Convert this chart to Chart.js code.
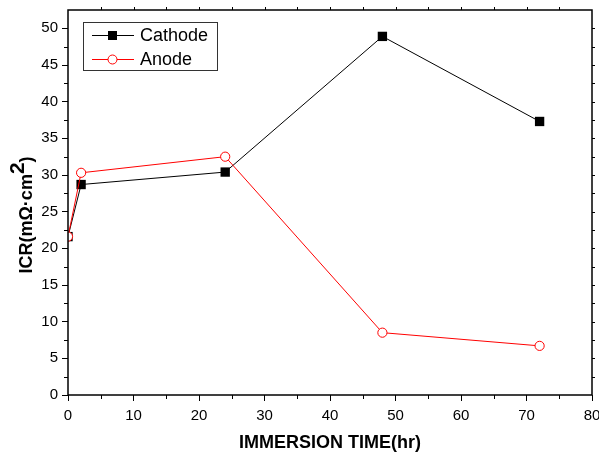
<!DOCTYPE html>
<html>
<head>
<meta charset="utf-8">
<script src="https://cdn.jsdelivr.net/npm/chart.js@4"></script>
<style>
  html, body { margin: 0; padding: 0; background: #fff; }
  #wrap { width: 599px; height: 454px; }
</style>
</head>
<body>
<div id="wrap"><canvas id="icrChart" width="599" height="454"></canvas></div>
<script>
// Dados
const hours = [0, 2, 24, 48, 72];
const cathode = [21.6, 28.7, 30.4, 48.9, 37.3];
const anode = [21.6, 30.3, 32.5, 8.5, 6.7];
const seriesNames = ['Cathode', 'Anode'];
const xTitle = 'IMMERSION TIME(hr)';
const yTitleParts = ['ICR(m\u03A9\u00B7cm', '2', ')'];

const FONT = '"Liberation Sans", Arial, sans-serif';

function toPoints(ys) {
    return hours.map((h, i) => ({ x: h, y: ys[i] }));
}

// Moldura, ticks menores, título do eixo Y e legenda
const framePlugin = {
    id: 'frame',
    afterDraw(chart) {
        const ctx = chart.ctx;
        const a = chart.chartArea;
        const xs = chart.scales.x;
        const ys = chart.scales.y;
        ctx.save();
        ctx.strokeStyle = '#000';
        ctx.lineWidth = 1.5;
        ctx.strokeRect(a.left, a.top, a.right - a.left, a.bottom - a.top);

        ctx.lineWidth = 1;
        ctx.beginPath();
        for (let v = 5; v < 80; v += 10) {
            const px = Math.round(xs.getPixelForValue(v)) + 0.5;
            ctx.moveTo(px, a.bottom);
            ctx.lineTo(px, a.bottom + 4);
        }
        for (let v = 2.5; v < 52.5; v += 5) {
            const py = Math.round(ys.getPixelForValue(v)) + 0.5;
            ctx.moveTo(a.left, py);
            ctx.lineTo(a.left - 4, py);
        }
        for (let v = 5; v < 80; v += 5) {
            const px = Math.round(xs.getPixelForValue(v)) + 0.5;
            ctx.moveTo(px, a.top);
            ctx.lineTo(px, a.top - 3);
        }
        for (let v = 2.5; v < 52.5; v += 2.5) {
            const py = Math.round(ys.getPixelForValue(v)) + 0.5;
            ctx.moveTo(a.right, py);
            ctx.lineTo(a.right + 3, py);
        }
        ctx.stroke();

        // título Y com expoente grande
        ctx.fillStyle = '#000';
        ctx.translate(27, 215);
        ctx.rotate(-Math.PI / 2);
        ctx.font = 'bold 18px ' + FONT;
        const w0 = ctx.measureText(yTitleParts[0]).width;
        const w2 = ctx.measureText(yTitleParts[2]).width;
        ctx.font = 'bold 21px ' + FONT;
        const w1 = ctx.measureText(yTitleParts[1]).width;
        let x = -(w0 + w1 + w2) / 2;
        ctx.textBaseline = 'middle';
        ctx.font = 'bold 18px ' + FONT;
        ctx.fillText(yTitleParts[0], x, 0);
        x += w0;
        ctx.font = 'bold 21px ' + FONT;
        ctx.fillText(yTitleParts[1], x, -9);
        x += w1;
        ctx.font = 'bold 18px ' + FONT;
        ctx.fillText(yTitleParts[2], x, 0);
        ctx.restore();

        // legenda dentro do gráfico
        ctx.save();
        const lx = 83, ly = 22;
        ctx.strokeStyle = '#333';
        ctx.lineWidth = 1;
        ctx.strokeRect(lx + 0.5, ly + 0.5, 134, 48);
        ctx.font = '18px ' + FONT;
        ctx.textBaseline = 'middle';
        chart.data.datasets.forEach((ds, i) => {
            const cy = ly + 13 + i * 24;
            ctx.strokeStyle = ds.borderColor;
            ctx.beginPath();
            ctx.moveTo(lx + 9, cy + 0.5);
            ctx.lineTo(lx + 51, cy + 0.5);
            ctx.stroke();
            if (ds.pointStyle === 'rect') {
                ctx.fillStyle = '#000';
                ctx.fillRect(lx + 25, cy - 4, 9, 9);
            } else {
                ctx.fillStyle = '#fff';
                ctx.beginPath();
                ctx.arc(lx + 29.5, cy + 0.5, 4.5, 0, Math.PI * 2);
                ctx.fill();
                ctx.stroke();
            }
            ctx.fillStyle = '#000';
            ctx.fillText(ds.label, lx + 57, cy + 1);
        });
        ctx.restore();
    }
};

const ctx = document.getElementById('icrChart').getContext('2d');
const icrChart = new Chart(ctx, {
    type: 'scatter',
    data: {
        datasets: [{
            label: seriesNames[0],
            data: toPoints(cathode),
            showLine: true,
            borderColor: '#000',
            borderWidth: 1,
            backgroundColor: '#000',
            pointStyle: 'rect',
            pointRadius: 6.6,
            pointBorderWidth: 0,
            order: 1
        }, {
            label: seriesNames[1],
            data: toPoints(anode),
            showLine: true,
            borderColor: '#ff0000',
            borderWidth: 1,
            backgroundColor: '#fff',
            pointStyle: 'circle',
            pointRadius: 4.6,
            pointBorderWidth: 1,
            order: 0
        }]
    },
    options: {
        responsive: false,
        animation: false,
        devicePixelRatio: 1,
        layout: { padding: { left: 0, top: 10, right: 7, bottom: 0 } },
        plugins: {
            legend: { display: false },
            tooltip: { enabled: false }
        },
        scales: {
            x: {
                type: 'linear',
                min: 0,
                max: 80,
                ticks: {
                    stepSize: 10,
                    color: '#000',
                    font: { family: FONT, size: 15 },
                    padding: 6,
                    maxRotation: 0
                },
                grid: { drawOnChartArea: false, tickLength: 6, color: '#000', lineWidth: 1 },
                border: { display: false },
                title: {
                    display: true,
                    text: xTitle,
                    color: '#000',
                    font: { family: FONT, size: 18, weight: 'bold' },
                    padding: { top: 2, bottom: 0 }
                },
                afterFit(scale) {
                    scale.height = 59;
                    scale.paddingLeft = 0;
                    scale.paddingRight = 0;
                }
            },
            y: {
                type: 'linear',
                min: 0,
                max: 52.5,
                ticks: {
                    stepSize: 5,
                    includeBounds: false,
                    color: '#000',
                    font: { family: FONT, size: 15 },
                    padding: 4
                },
                grid: { drawOnChartArea: false, tickLength: 6, color: '#000', lineWidth: 1 },
                border: { display: false },
                afterFit(scale) {
                    scale.width = 68;
                    scale.paddingTop = 0;
                    scale.paddingBottom = 0;
                }
            }
        }
    },
    plugins: [framePlugin]
});
</script>
</body>
</html>
